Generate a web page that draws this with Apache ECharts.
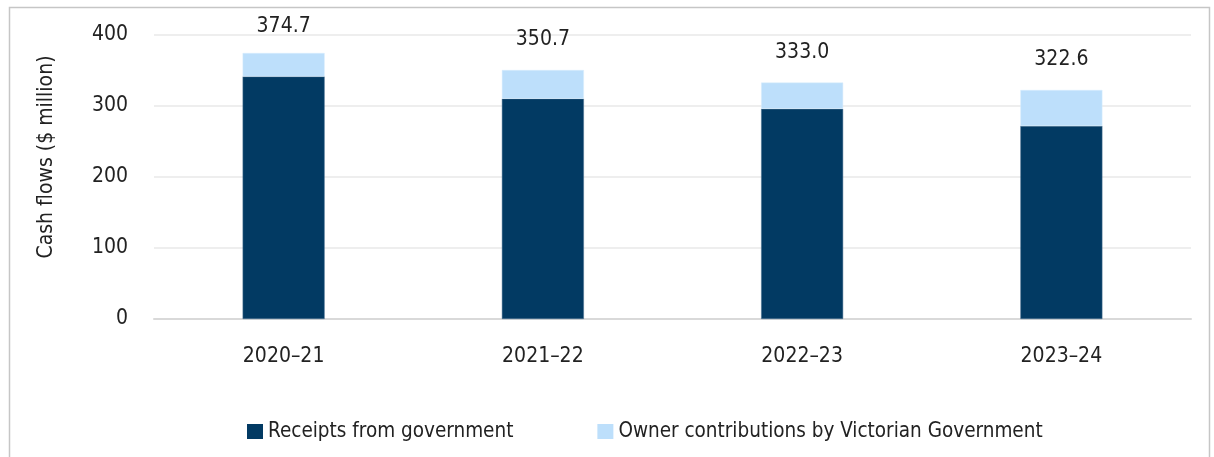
<!DOCTYPE html>
<html>
<head>
<meta charset="utf-8">
<script src="https://cdn.jsdelivr.net/npm/echarts@6/dist/echarts.min.js"></script>
<style>
  html, body { margin: 0; padding: 0; background: #fff; }
  #chart { width: 1214px; height: 457px; }
</style>
</head>
<body>
<div id="chart"></div>
<script>
const years = ["2020\u201321", "2021\u201322", "2022\u201323", "2023\u201324"];
const receipts = [341.5, 310.3, 296.0, 272.0];
const ownerContrib = [33.2, 40.4, 37.0, 50.6];
const totals = ["374.7", "350.7", "333.0", "322.6"];
const yTicks = [0, 100, 200, 300, 400];

const font = '"Liberation Sans Narrow", "DejaVu Sans Condensed", Roboto, sans-serif';
const textColor = "#222";

const chart = echarts.init(document.getElementById("chart"), null, { renderer: "canvas" });

chart.setOption({
  backgroundColor: "#fff",
  animation: false,
  graphic: [
    {
      type: "rect",
      left: 7,
      top: 5,
      shape: { width: 1200, height: 470 },
      style: { fill: "none", stroke: "#c6c6c6", lineWidth: 1.5 },
      silent: true,
    },
  ],
  grid: { left: 154, right: 23, top: 35, bottom: 138 },
  legend: {
    top: 416,
    left: 242,
    itemWidth: 16,
    itemHeight: 15,
    itemGap: 84,
    icon: "rect",
    itemStyle: { borderWidth: 0 },
    textStyle: { fontFamily: font, fontSize: 20.5, color: textColor },
    data: ["Receipts from government", "Owner contributions by Victorian Government"],
  },
  xAxis: {
    type: "category",
    data: years,
    axisLine: { lineStyle: { color: "#d9d9d9", width: 2 } },
    axisTick: { show: false },
    axisLabel: { fontFamily: font, fontSize: 21, color: textColor, margin: 27 },
  },
  yAxis: {
    type: "value",
    min: yTicks[0],
    max: yTicks[yTicks.length - 1],
    interval: 100,
    name: "Cash flows ($ million)",
    nameLocation: "middle",
    nameGap: 97,
    nameTextStyle: { fontFamily: font, fontSize: 21, color: textColor, padding: [0, 0, 0, 40] },
    axisLine: { show: false },
    axisTick: { show: false },
    axisLabel: { fontFamily: font, fontSize: 21, color: textColor, margin: 26 },
    splitLine: { lineStyle: { color: "#e8e8e8", width: 1.5 } },
  },
  series: [
    {
      name: "Receipts from government",
      type: "bar",
      stack: "total",
      barWidth: 82,
      data: receipts,
      itemStyle: { color: "#023a63", borderColor: "#4d7393", borderWidth: 0.5 },
    },
    {
      name: "Owner contributions by Victorian Government",
      type: "bar",
      stack: "total",
      barWidth: 82,
      data: ownerContrib.map((v, i) => ({
        value: v,
        label: { distance: i === 0 ? 16 : 20 },
      })),
      itemStyle: { color: "#bddffb", borderColor: "#d8ecfc", borderWidth: 0.5 },
      label: {
        show: true,
        position: "top",
        fontFamily: font,
        fontSize: 21,
        color: textColor,
        formatter: (p) => totals[p.dataIndex],
      },
    },
  ],
});
</script>
</body>
</html>
